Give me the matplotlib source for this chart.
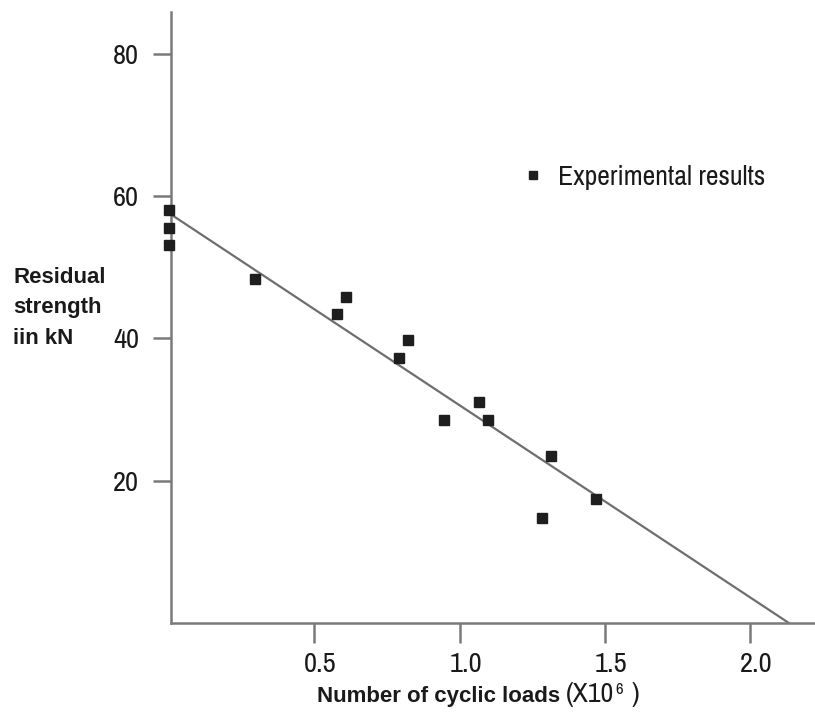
import matplotlib
matplotlib.use("Agg")
import matplotlib.pyplot as plt
import matplotlib.transforms as mtransforms
from matplotlib import font_manager

# ---- data ----
cycles = [0.0, 0.0, 0.0, 0.296, 0.576, 0.608, 0.792, 0.822, 0.946, 1.067, 1.098, 1.314, 1.282, 1.468]
strength = [58.1, 55.6, 53.1, 48.4, 43.5, 45.9, 37.2, 39.8, 28.5, 31.1, 28.5, 23.5, 14.8, 17.4]
fit_x = [0.0, 2.133]
fit_y = [57.6, 0.0]
x_ticks = [0.5, 1.0, 1.5, 2.0]
x_tick_labels = ["0.5", "1.0", "1.5", "2.0"]
y_ticks = [20, 40, 60, 80]
y_tick_labels = ["20", "40", "60", "80"]

names = {f.name for f in font_manager.fontManager.ttflist}
narrow = "Liberation Sans"
for cand in ["Liberation Sans Narrow", "Arial Narrow", "Archivo Narrow", "Roboto Condensed"]:
    if cand in names:
        narrow = cand
        break
bold_font = "Liberation Sans"

fig = plt.figure(figsize=(8.15, 7.26), dpi=100)
ax = fig.add_axes([171 / 815, 1 - 623 / 726, 1 - 171 / 815, (623 - 12) / 726])
ax.set_xlim(0.006, 2.223)
ax.set_ylim(0.0, 85.9)

axis_col = "#7a7a7a"
for s in ["top", "right"]:
    ax.spines[s].set_visible(False)
for s in ["left", "bottom"]:
    ax.spines[s].set_color(axis_col)
    ax.spines[s].set_linewidth(1.8)

ax.plot(fit_x, fit_y, color="#6e6e6e", lw=1.6, zorder=2, clip_on=False)
pts, = ax.plot(cycles, strength, linestyle="none", marker="s", markersize=6.5,
               color="#1e1e1e", zorder=3, clip_on=False, label="Experimental results")

ax.set_xticks(x_ticks)
ax.set_xticklabels(x_tick_labels)
ax.set_yticks(y_ticks)
ax.set_yticklabels(y_tick_labels)
ax.tick_params(axis="both", direction="out", color=axis_col, width=1.8,
               labelsize=20.5, labelcolor="#1a1a1a")
ax.tick_params(axis="x", length=14.5, pad=6.5)
ax.tick_params(axis="y", length=13, pad=10)
for lab in ax.get_xticklabels() + ax.get_yticklabels():
    lab.set_fontfamily(narrow)
off = mtransforms.ScaledTranslation(6 / 100, 0, fig.dpi_scale_trans)
for lab in ax.get_xticklabels():
    lab.set_transform(lab.get_transform() + off)

leg = ax.legend(handles=[pts], loc="upper left", frameon=False,
                bbox_to_anchor=(522 / 815, 1 - 165 / 726), bbox_transform=fig.transFigure,
                prop={"family": narrow, "size": 20}, markerscale=0.95,
                handlelength=0.8, handletextpad=0.5, borderpad=0, borderaxespad=0)
for t in leg.get_texts():
    t.set_color("#1a1a1a")

# y label (three lines, bold); baseline of the last line
fig.text(13 / 815, 1 - 344 / 726, "Residual\nstrength\niin kN", ha="left", va="baseline",
         fontsize=16, fontweight="bold", family=bold_font, color="#1a1a1a",
         linespacing=1.6)

# x label: bold part + regular part with superscript
y_base = 1 - 702 / 726
t1 = fig.text(317 / 815, y_base, "Number of cyclic loads ", ha="left", va="baseline",
              fontsize=16, fontweight="bold", family=bold_font, color="#1a1a1a")
fig.canvas.draw()
bb = t1.get_window_extent()
x2 = bb.x1 / fig.bbox.width
t2 = fig.text(x2, y_base, "(X10", ha="left", va="baseline", fontsize=20,
              family=narrow, color="#1a1a1a")
fig.canvas.draw()
bb2 = t2.get_window_extent()
x3 = bb2.x1 / fig.bbox.width
t3 = fig.text(x3 + 1 / 815, y_base + 8 / 726, "6", ha="left", va="baseline", fontsize=12,
              family=narrow, color="#1a1a1a")
fig.canvas.draw()
bb3 = t3.get_window_extent()
fig.text(bb3.x1 / fig.bbox.width + 8 / 815, y_base, ")", ha="left", va="baseline",
         fontsize=20, family=narrow, color="#1a1a1a")

fig.savefig("out.png", dpi=100)
